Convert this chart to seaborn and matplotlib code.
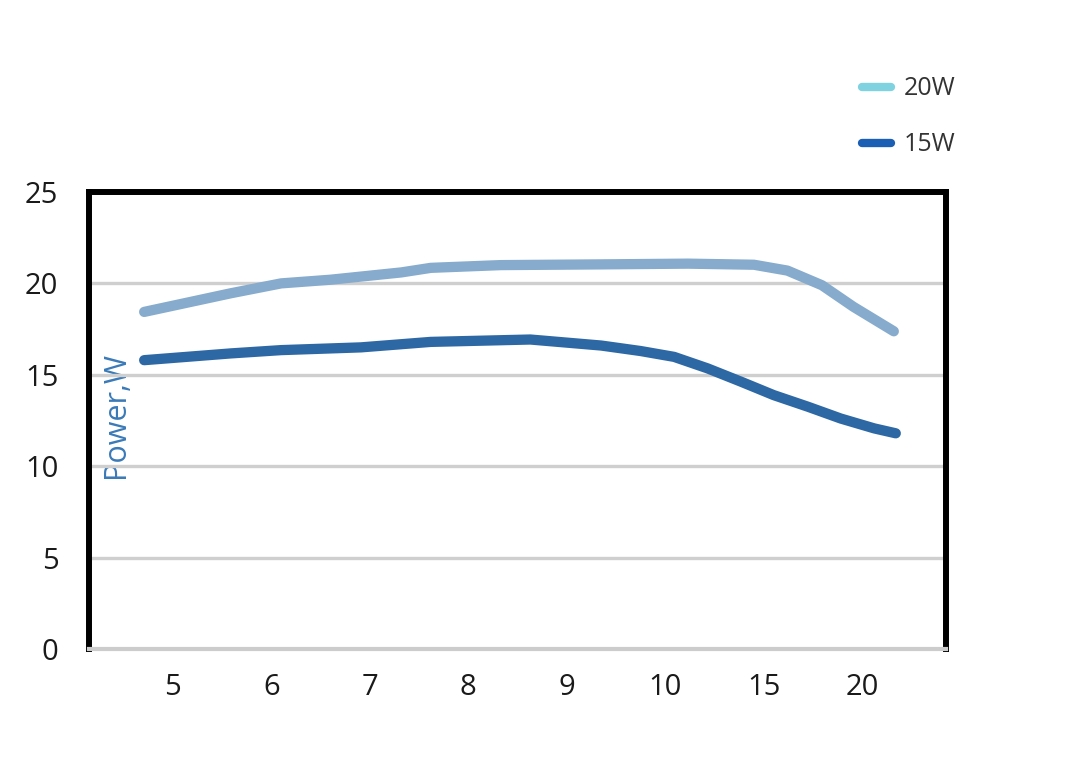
import matplotlib
matplotlib.use("Agg")
import matplotlib.pyplot as plt
from matplotlib.lines import Line2D
import seaborn as sns
import pandas as pd

# ---- data ----
categories = ["5", "6", "7", "8", "9", "10", "15", "20"]

# series (x in category-index units)
x_20w = [-0.29, 0.59, 1.10, 1.60, 2.32, 2.62, 3.33, 4.35, 5.23, 5.90, 6.24, 6.59, 6.91, 7.32]
y_20w = [18.44, 19.46, 20.00, 20.20, 20.60, 20.85, 21.00, 21.04, 21.08, 21.02, 20.70, 19.90, 18.72, 17.38]

x_15w = [-0.29, 0.59, 1.10, 1.91, 2.62, 3.63, 4.35, 4.75, 5.09, 5.43, 5.77, 6.10, 6.45, 6.78, 7.12, 7.34]
y_15w = [15.80, 16.17, 16.35, 16.50, 16.80, 16.93, 16.60, 16.30, 15.98, 15.35, 14.62, 13.89, 13.25, 12.61, 12.07, 11.80]

series_names = ["20W", "15W"]
y_ticks = [0, 5, 10, 15, 20, 25]

line_colors = {"20W": "#86abcd", "15W": "#2d68a4"}
legend_colors = {"20W": "#7fd2df", "15W": "#1a5fb4"}

df = pd.concat([
    pd.DataFrame({"x": x_20w, "power": y_20w, "series": "20W"}),
    pd.DataFrame({"x": x_15w, "power": y_15w, "series": "15W"}),
], ignore_index=True)

sns.set_style("white")
plt.rcParams["font.family"] = ["Open Sans", "DejaVu Sans"]

fig = plt.figure(figsize=(10.71, 7.71), dpi=100)
ax = fig.add_axes([0.0831, 0.1582, 0.8002, 0.5928])

# gridlines
for yv in y_ticks[1:-1]:
    ax.axhline(yv, color="#cfcfcf", lw=2.4, zorder=1)

sns.lineplot(data=df, x="x", y="power", hue="series", palette=line_colors,
             estimator=None, sort=False, legend=False, ax=ax,
             lw=7.4, solid_capstyle="round", solid_joinstyle="round", zorder=3)

ax.set_xlim(-0.85, 7.85)
ax.set_ylim(0, 25)
ax.set_xticks(range(len(categories)))
ax.set_xticklabels(categories)
ax.set_yticks(y_ticks)
ax.set_yticklabels([str(v) for v in y_ticks])
ax.tick_params(axis="both", length=0, labelsize=21, labelcolor="#1a1a1a")
ax.tick_params(axis="x", pad=17)
ax.tick_params(axis="y", pad=22)
ax.set_xlabel("")

for side in ["left", "top", "right"]:
    ax.spines[side].set_visible(True)
    ax.spines[side].set_color("black")
    ax.spines[side].set_linewidth(4.3)
ax.spines["bottom"].set_color("#cccccc")
ax.spines["bottom"].set_linewidth(3.0)

ax.set_ylabel("Power,W", color="#3a7ab8", fontsize=22)
ax.yaxis.set_label_coords(0.0315, 0.513)
ax.yaxis.label.set_va("center")
ax.yaxis.label.set_ha("center")

handles = [Line2D([0], [0], color=legend_colors[n], lw=6, solid_capstyle="round") for n in series_names]
fig.legend(handles, series_names, loc="upper left", bbox_to_anchor=(0.805, 0.901),
           frameon=False, fontsize=18, handlelength=1.15, handletextpad=0.5,
           labelspacing=1.24, borderpad=0, borderaxespad=0, labelcolor="#333333")

fig.savefig("out.png", dpi=100)
